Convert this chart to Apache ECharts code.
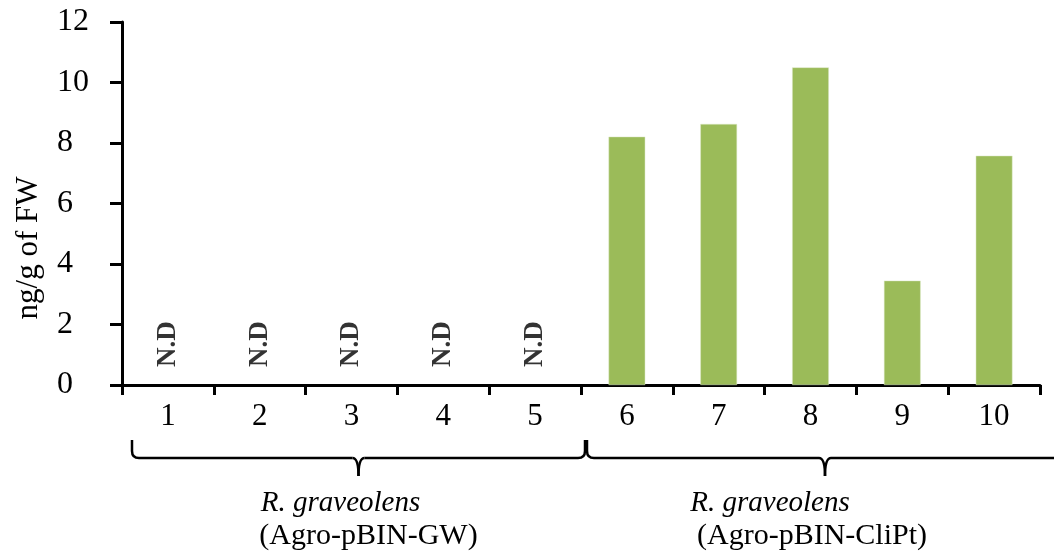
<!DOCTYPE html>
<html>
<head>
<meta charset="utf-8">
<script src="https://cdn.jsdelivr.net/npm/echarts@6/dist/echarts.min.js"></script>
<style>html,body{margin:0;padding:0;background:#fff;}#c{width:1054px;height:556px;}</style>
</head>
<body>
<div id="c"></div>
<script>
// ---- data ----
const categories = ['1', '2', '3', '4', '5', '6', '7', '8', '9', '10'];
const concentrations = [null, null, null, null, null, 8.21, 8.63, 10.5, 3.45, 7.58];
const notDetected = [true, true, true, true, true, false, false, false, false, false];
const yMin = 0, yMax = 12, yStep = 2;
const yAxisTitle = 'ng/g of FW';
const ndText = 'N.D';
const groupSpecies = ['R. graveolens', 'R. graveolens'];
const groupConstructs = ['(Agro-pBIN-GW)', '(Agro-pBIN-CliPt)'];
const groupFirstIdx = [0, 5];
const groupLastIdx = [4, 9];

const serif = '"Liberation Serif", "Times New Roman", serif';
const chart = echarts.init(document.getElementById('c'), null, {renderer: 'canvas'});

const ndData = categories.map((c, i) => notDetected[i] ? [i, 1.35] : null).filter(d => d);

chart.setOption({
  backgroundColor: '#fff',
  animation: false,
  grid: {left: 122, right: 14, top: 22, bottom: 171, containLabel: false},
  xAxis: {
    type: 'category',
    data: categories,
    boundaryGap: true,
    axisLine: {lineStyle: {color: '#000', width: 3}},
    axisTick: {show: true, length: 10, inside: false, lineStyle: {color: '#000', width: 3}},
    axisLabel: {color: '#000', fontFamily: serif, fontSize: 31, margin: 16},
    splitLine: {show: false}
  },
  yAxis: {
    type: 'value',
    min: yMin, max: yMax, interval: yStep,
    axisLine: {show: true, lineStyle: {color: '#000', width: 3}},
    axisTick: {show: true, length: 12, lineStyle: {color: '#000', width: 3}},
    axisLabel: {color: '#000', fontFamily: serif, fontSize: 32, align: 'left', margin: 65},
    splitLine: {show: false}
  },
  series: [
    {
      type: 'bar',
      data: concentrations,
      barWidth: '40%',
      itemStyle: {color: '#9BBB59', borderColor: '#DDE9C8', borderWidth: 0.5}
    },
    {
      type: 'scatter',
      data: ndData,
      symbolSize: 0,
      silent: true,
      label: {
        show: true,
        position: 'inside',
        rotate: 90,
        formatter: ndText,
        color: '#000',
        fontFamily: serif,
        fontWeight: 'bold',
        fontSize: 27
      }
    }
  ]
});

// braces, group labels and axis title derived from axis positions
function catX(i) { return chart.convertToPixel({xAxisIndex: 0}, i); }
const half = (catX(1) - catX(0)) / 2;
const braceY = 458;
const stroke = {fill: null, stroke: '#000', lineWidth: 2.5};
const graphics = [];

graphics.push({
  type: 'text',
  x: 29, y: 248,
  rotation: Math.PI / 2,
  style: {text: yAxisTitle, fill: '#000', font: '31px ' + serif, textAlign: 'center', textVerticalAlign: 'middle'}
});

function addBrace(x1, x2, y) {
  const xm = (x1 + x2) / 2;
  const h = 18, r = 7, c = 6;
  graphics.push({type: 'line', shape: {x1: x1, y1: y - h, x2: x1, y2: y - r}, style: stroke});
  graphics.push({type: 'bezierCurve', shape: {x1: x1, y1: y - r, x2: x1 + r, y2: y, cpx1: x1, cpy1: y}, style: stroke});
  graphics.push({type: 'line', shape: {x1: x1 + r, y1: y, x2: xm - c, y2: y}, style: stroke});
  graphics.push({type: 'bezierCurve', shape: {x1: xm - c, y1: y, x2: xm, y2: y + h, cpx1: xm, cpy1: y}, style: stroke});
  graphics.push({type: 'bezierCurve', shape: {x1: xm + c, y1: y, x2: xm, y2: y + h, cpx1: xm, cpy1: y}, style: stroke});
  graphics.push({type: 'line', shape: {x1: xm + c, y1: y, x2: x2 - r, y2: y}, style: stroke});
  graphics.push({type: 'bezierCurve', shape: {x1: x2 - r, y1: y, x2: x2, y2: y - r, cpx1: x2, cpy1: y}, style: stroke});
  graphics.push({type: 'line', shape: {x1: x2, y1: y - r, x2: x2, y2: y - h}, style: stroke});
  return xm;
}
const braceEnds = [
  [catX(groupFirstIdx[0]) - half + 10, catX(groupLastIdx[0]) + half + 4],
  [catX(groupFirstIdx[1]) - half + 6, catX(groupLastIdx[1]) + half + 23]
];
const textOffsets = [[-18, 10], [-55, -13]];
braceEnds.forEach((e, g) => {
  const xm = addBrace(e[0], e[1], braceY);
  graphics.push({
    type: 'text',
    x: xm + textOffsets[g][0], y: 503,
    style: {text: groupSpecies[g], fill: '#000', font: 'italic 29px ' + serif, textAlign: 'center', textVerticalAlign: 'middle'}
  });
  graphics.push({
    type: 'text',
    x: xm + textOffsets[g][1], y: 536,
    style: {text: groupConstructs[g], fill: '#000', font: '30px ' + serif, textAlign: 'center', textVerticalAlign: 'middle'}
  });
});
chart.setOption({graphic: graphics});
</script>
</body>
</html>
